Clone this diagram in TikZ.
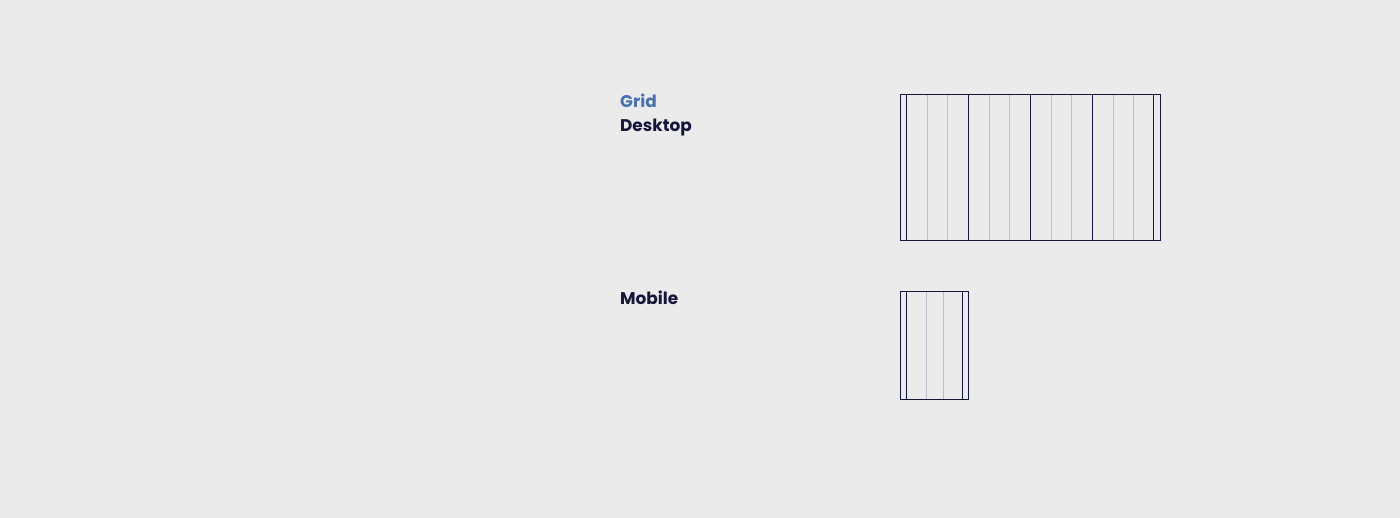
\documentclass[tikz,border=0pt]{standalone}
\usepackage{fontspec}
\setmainfont{Poppins}
\definecolor{bg}{HTML}{EBEBEB}
\definecolor{ink}{HTML}{14163A}
\definecolor{soft}{HTML}{B8BFCC}
\definecolor{blue}{HTML}{4A6FAE}
\begin{document}
\begin{tikzpicture}[x=1pt,y=-1pt,
  darkline/.style={draw=ink,line width=1pt},
  lightline/.style={draw=soft,line width=1pt},
  label/.style={anchor=base west,inner sep=0pt,font=\fontsize{16.9}{19}\selectfont\bfseries,text=ink}]
\fill[bg] (0,0) rectangle (1400,518);
\useasboundingbox (0,0) rectangle (1400,518);
\node[label,text=blue] (grid) at (620,107.5) {Grid};
\node[label] (desk) at (620,131.5) {Desktop};
\node[label] (mob) at (620,304.5) {Mobile};
% desktop grid
\foreach \x in {927.3,947.3,989.3,1009.3,1051.3,1071.3,1113.3,1133.3}
  \draw[lightline] (\x,94.3) -- (\x,240.3);
\foreach \x in {906.3,968.3,1030.3,1092.3,1153.7}
  \draw[darkline] (\x,94.3) -- (\x,240.3);
\draw[darkline] (900.7,94.3) rectangle (1160.3,240.3);
% mobile grid
\foreach \x in {926.3,943.3}
  \draw[lightline] (\x,291.7) -- (\x,399);
\foreach \x in {906.3,962.7}
  \draw[darkline] (\x,291.7) -- (\x,399);
\draw[darkline] (900.7,291.7) rectangle (968.3,399);
\end{tikzpicture}
\end{document}
